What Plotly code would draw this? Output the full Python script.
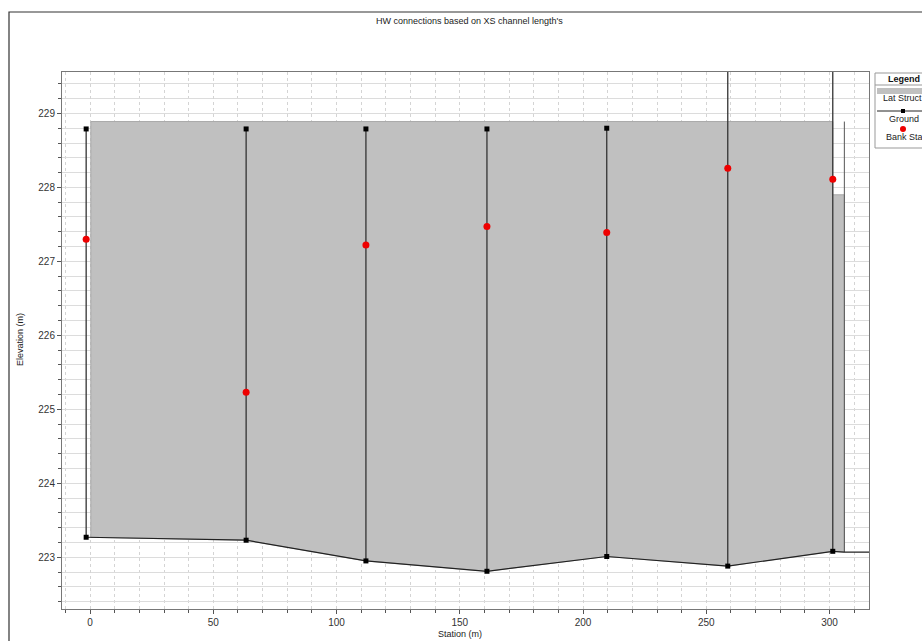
import numpy as np
import plotly.graph_objects as go

# ---- data ----
xs_station = [-1.6, 63.3, 111.9, 161.0, 209.6, 258.7, 301.3]
xs_ground = [223.27, 223.23, 222.95, 222.81, 223.01, 222.88, 223.08]
xs_top = [228.79, 228.79, 228.79, 228.79, 228.80, 231.0, 231.0]
bank_elev = [227.30, 225.23, 227.22, 227.47, 227.39, 228.26, 228.11]

ground_tail_station = [306.0, 330.0]
ground_tail_elev = [223.07, 223.07]

lat_station = [0.3, 301.3, 301.3, 306.0]
lat_top = [228.89, 228.89, 227.90, 227.90]
lat_crest = 228.89

x_range = [-11.4, 316.0]
y_range = [222.30, 229.56]

title_text = "HW connections based on XS channel length's"
x_title = "Station (m)"
y_title = "Elevation (m)"
legend_items = ["Lat Struct", "Ground", "Bank Sta"]

# ---- build ----
gs = np.array(xs_station + ground_tail_station)
ge = np.array(xs_ground + ground_tail_elev)

bot_x = [lat_station[-1]] + [s for s in xs_station[::-1] if lat_station[0] < s < lat_station[-1]] + [lat_station[0]]
bot_y = list(np.interp(bot_x, gs, ge))
poly_x = lat_station + bot_x + [lat_station[0]]
poly_y = lat_top + bot_y + [lat_top[0]]

fig = go.Figure()
fig.add_trace(go.Scatter(x=poly_x, y=poly_y, mode="lines", fill="toself",
                         fillcolor="#c0c0c0", line=dict(color="#a8a8a8", width=1),
                         showlegend=False, hoverinfo="skip"))
fig.add_trace(go.Scatter(x=[lat_station[-1], lat_station[-1]],
                         y=[lat_crest, float(np.interp(lat_station[-1], gs, ge))],
                         mode="lines", line=dict(color="#555555", width=1),
                         showlegend=False, hoverinfo="skip"))

fig.add_trace(go.Scatter(x=list(gs), y=list(ge), mode="lines",
                         line=dict(color="#222222", width=1.2), showlegend=False))

for s, g, t in zip(xs_station, xs_ground, xs_top):
    fig.add_trace(go.Scatter(x=[s, s], y=[g, t], mode="lines",
                             line=dict(color="#333333", width=1.3),
                             showlegend=False, hoverinfo="skip"))
fig.add_trace(go.Scatter(x=xs_station, y=xs_ground, mode="markers",
                         marker=dict(symbol="square", size=5, color="black"),
                         showlegend=False))
fig.add_trace(go.Scatter(x=xs_station, y=xs_top, mode="markers",
                         marker=dict(symbol="square", size=5, color="black"),
                         showlegend=False))
fig.add_trace(go.Scatter(x=xs_station, y=bank_elev, mode="markers",
                         marker=dict(symbol="circle", size=7, color="#ee0000"),
                         showlegend=False))

L, R, T, B = 62, 53, 72, 32
W, H = 922, 641
pw, ph = W - L - R, H - T - B
def px(xp):
    return (xp - L) / pw
def py(yp):
    return (H - B - yp) / ph

font = "Liberation Sans, Arial, sans-serif"
axis_common = dict(showline=True, linecolor="#777777", linewidth=1, mirror=True,
                   ticks="outside", ticklen=4, tickcolor="#555555",
                   tickfont=dict(family=font, size=10, color="#333333"),
                   zeroline=False)

fig.update_layout(
    width=W, height=H,
    margin=dict(l=L, r=R, t=T, b=B),
    paper_bgcolor="white", plot_bgcolor="white",
    showlegend=False,
    font=dict(family=font),
    xaxis=dict(range=x_range, dtick=50, tick0=0,
               showgrid=True, gridcolor="#d4d4d4", griddash="dot", gridwidth=1,
               minor=dict(dtick=10, tick0=0, showgrid=True, gridcolor="#d4d4d4",
                          griddash="dot", ticks="outside", ticklen=3, tickcolor="#555555"),
               **axis_common),
    yaxis=dict(range=y_range, dtick=1, tick0=223,
               showgrid=True, gridcolor="#dcdcdc", gridwidth=1,
               minor=dict(dtick=0.2, tick0=223, showgrid=True, gridcolor="#dcdcdc",
                          ticks="outside", ticklen=3, tickcolor="#555555"),
               **axis_common),
)

shapes = []
shapes.append(dict(type="rect", xref="paper", yref="paper",
                   x0=px(9), x1=px(940), y0=py(660), y1=py(12),
                   line=dict(color="#333333", width=1.2), fillcolor="rgba(0,0,0,0)"))
shapes.append(dict(type="rect", xref="paper", yref="paper",
                   x0=px(875), x1=px(935), y0=py(148), y1=py(73),
                   line=dict(color="#999999", width=1), fillcolor="white"))
shapes.append(dict(type="line", xref="paper", yref="paper",
                   x0=px(875), x1=px(935), y0=py(85), y1=py(85),
                   line=dict(color="#999999", width=1)))
shapes.append(dict(type="rect", xref="paper", yref="paper",
                   x0=px(877), x1=px(935), y0=py(94), y1=py(88),
                   line=dict(width=0), fillcolor="#c0c0c0"))
shapes.append(dict(type="line", xref="paper", yref="paper",
                   x0=px(877), x1=px(935), y0=py(111), y1=py(111),
                   line=dict(color="#222222", width=1)))
shapes.append(dict(type="rect", xref="paper", yref="paper",
                   x0=px(901), x1=px(905), y0=py(113), y1=py(109),
                   line=dict(width=0), fillcolor="black"))
shapes.append(dict(type="circle", xref="paper", yref="paper",
                   x0=px(900), x1=px(906), y0=py(132), y1=py(126),
                   line=dict(width=0), fillcolor="#ee0000"))
fig.update_layout(shapes=shapes)

ann = []
ann.append(dict(text=title_text, xref="paper", yref="paper", x=px(470), y=py(21),
                xanchor="center", yanchor="middle",
                showarrow=False, font=dict(size=9, color="#222222", family=font)))
ann.append(dict(text=x_title, xref="paper", yref="paper", x=px(460), y=py(641),
                xanchor="center", yanchor="bottom",
                showarrow=False, font=dict(size=9, color="#222222", family=font)))
ann.append(dict(text=y_title, xref="paper", yref="paper", x=px(20), y=py(340),
                xanchor="center", yanchor="middle",
                textangle=-90, showarrow=False, font=dict(size=9, color="#222222", family=font)))
ann.append(dict(text="<b>Legend</b>", xref="paper", yref="paper", x=px(886), y=py(79),
                xanchor="left", yanchor="middle",
                showarrow=False, font=dict(size=9, color="#111111", family=font)))
for t, xx, yy in zip(legend_items, [881, 887, 884], [98, 119, 137]):
    ann.append(dict(text=t, xref="paper", yref="paper", x=px(xx), y=py(yy),
                    xanchor="left", yanchor="middle",
                    showarrow=False, font=dict(size=9, color="#222222", family=font)))
fig.update_layout(annotations=ann)

fig.write_html("out.html")
